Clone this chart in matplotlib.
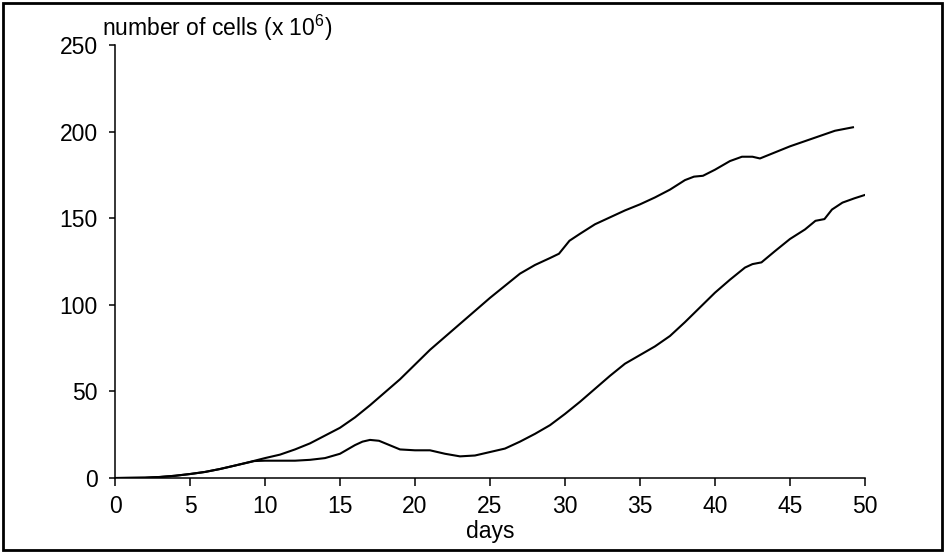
import numpy as np
import matplotlib
matplotlib.use('Agg')
import matplotlib.pyplot as plt
from matplotlib.patches import Rectangle

plt.rcParams['font.family'] = ['Liberation Sans', 'DejaVu Sans']
plt.rcParams['mathtext.fontset'] = 'custom'
plt.rcParams['mathtext.rm'] = 'Liberation Sans'

# values (days, cells x 10^6)
days_upper = [0, 2, 3, 4, 5, 6, 7, 8, 9, 10, 11, 12, 13, 14, 15, 16, 17, 18,
              19, 20, 21, 22, 23, 24, 25, 26, 27, 28, 29, 29.6, 30.3, 31, 32,
              33, 34, 35, 36, 37, 38, 38.6, 39.2, 40, 41, 41.8, 42.5, 43, 44,
              45, 46, 47, 48, 49.2]
cells_upper = [0, 0.2, 0.6, 1.3, 2.3, 3.5, 5.2, 7.2, 9.3, 11.5, 13.5, 16.5,
               20, 24.5, 29, 35, 42, 49.5, 57, 65.5, 74, 81.5, 89, 96.5, 104,
               111, 118, 123, 127, 129.5, 137, 141, 146.5, 150.5, 154.5, 158,
               162, 166.5, 172, 174, 174.5, 178, 183, 185.5, 185.5, 184.5,
               188, 191.5, 194.5, 197.5, 200.5, 202.5]

days_lower = [0, 2, 3, 4, 5, 6, 7, 8, 9.3, 10, 11, 12, 13, 14, 15, 16, 16.5,
              17, 17.6, 18.3, 19, 20, 21, 22, 23, 24, 25, 26, 27, 28, 29, 30,
              31, 32, 33, 34, 35, 36, 37, 38, 39, 40, 41, 42, 42.5, 43.1, 44,
              45, 46, 46.7, 47.3, 47.8, 48.5, 49.3, 50.2]
cells_lower = [0, 0.2, 0.6, 1.3, 2.3, 3.5, 5.2, 7.2, 9.8, 10, 10, 10, 10.5,
               11.5, 14, 19, 21, 22, 21.5, 19, 16.5, 16, 16, 14, 12.5, 13, 15,
               17, 21, 25.5, 30.5, 37, 44, 51.5, 59, 66, 71, 76, 82, 90, 98.5,
               107, 114.5, 121.5, 123.5, 124.5, 131, 138, 143.5, 148.5, 149.5,
               155, 159, 161.5, 164]

x_ticks = [0, 5, 10, 15, 20, 25, 30, 35, 40, 45, 50]
y_ticks = [0, 50, 100, 150, 200, 250]

fs = 16.5

fig = plt.figure(figsize=(9.45, 5.53), dpi=100)
ax = fig.add_axes([0.1217, 0.1356, 0.7936, 0.783])

ax.plot(days_upper, cells_upper, color='black', lw=1.5, solid_joinstyle='round')
ax.plot(days_lower, cells_lower, color='black', lw=1.5, solid_joinstyle='round')

ax.set_xlim(0, 50)
ax.set_ylim(0, 250)
ax.set_xticks(x_ticks)
ax.set_yticks(y_ticks)
ax.spines['top'].set_visible(False)
ax.spines['right'].set_visible(False)
for s in ('left', 'bottom'):
    ax.spines[s].set_linewidth(1.1)
ax.tick_params(axis='x', length=5.5, width=1.1, pad=6.5, labelsize=fs)
ax.tick_params(axis='y', length=4, width=1.1, pad=8.5, labelsize=fs)

ax.set_xlabel('days', fontsize=fs, labelpad=2)
fig.text(102 / 945, 1 - 36 / 553, r'number of cells (x 10$^{\mathregular{6}}$)',
         fontsize=fs, ha='left', va='baseline')

# frame round the whole figure
fig.patches.append(Rectangle((0.003, 0.005), 0.994, 0.99, transform=fig.transFigure,
                             fill=False, edgecolor='black', lw=2))

fig.savefig('out.png', dpi=100)
